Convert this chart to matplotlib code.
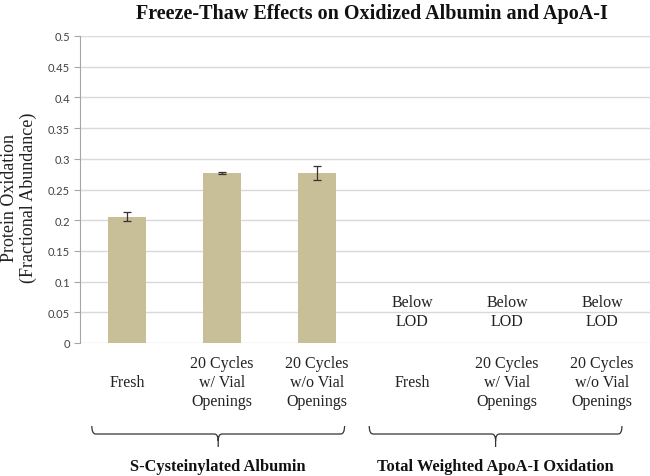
import matplotlib
matplotlib.use("Agg")
import matplotlib.pyplot as plt
from matplotlib.path import Path
from matplotlib.patches import PathPatch
from matplotlib.transforms import blended_transform_factory
import numpy as np

title = "Freeze-Thaw Effects on Oxidized Albumin and ApoA-I"
ylabel = "Protein Oxidation\n(Fractional Abundance)"
categories = ["Fresh", "20 Cycles\nw/ Vial\nOpenings", "20 Cycles\nw/o Vial\nOpenings",
              "Fresh", "20 Cycles\nw/ Vial\nOpenings", "20 Cycles\nw/o Vial\nOpenings"]
values = [0.206, 0.277, 0.277, np.nan, np.nan, np.nan]
errors = [0.007, 0.002, 0.012, 0, 0, 0]
lod_text = "Below\nLOD"
lod_level = 0.052
groups = ["S-Cysteinylated Albumin", "Total Weighted ApoA-I Oxidation"]
group_ranges = [(-0.37, 2.29), (2.55, 5.21)]
yticks = [0, 0.05, 0.1, 0.15, 0.2, 0.25, 0.3, 0.35, 0.4, 0.45, 0.5]
ytick_labels = ["0", "0.05", "0.1", "0.15", "0.2", "0.25", "0.3", "0.35", "0.4", "0.45", "0.5"]

SERIF = ["Liberation Serif", "DejaVu Serif"]
SANS = ["Lato", "DejaVu Sans"]

W, H = 650, 477
fig = plt.figure(figsize=(6.5, 4.77), dpi=100)
ax = fig.add_axes([79.5 / W, (H - 344) / H, 570 / W, 307 / H])

x = np.arange(len(categories))
vals = np.array(values, dtype=float)
mask = ~np.isnan(vals)
ax.bar(x[mask], vals[mask], width=0.4, color="#C8BF98", zorder=3)
ax.errorbar(x[mask], vals[mask], yerr=np.array(errors)[mask], fmt="none",
            ecolor="#333333", elinewidth=0.9, capsize=3, capthick=0.9, zorder=4)

for i in x[~mask]:
    ax.text(i, lod_level, lod_text, ha="center", va="center", fontsize=11.5,
            family=SERIF, color="#222222", linespacing=1.25)

ax.set_xlim(-0.5, 5.5)
ax.set_ylim(0, 0.5)
ax.set_yticks(yticks)
ax.set_yticklabels(ytick_labels, family=SANS, fontsize=8, color="#404040")
ax.set_xticks([])
ax.yaxis.grid(True, color="#d9d9d9", linewidth=1, zorder=0)
ax.set_axisbelow(True)
for s in ["top", "right", "bottom"]:
    ax.spines[s].set_visible(False)
ax.spines["left"].set_color("#a6a6a6")
ax.tick_params(axis="y", length=4, color="#a6a6a6", width=0.8, pad=3)

# y label
fig.text(19 / W, 1 - 198 / H, ylabel, rotation=90, ha="center", va="center",
         family=SERIF, fontsize=13, color="#222222", linespacing=1.1, multialignment="center")

# title
fig.text(372 / W, 1 - 14 / H, title, ha="center", va="center", family=SERIF,
         fontsize=14.5, fontweight="bold", color="#111111")

tr = blended_transform_factory(ax.transData, fig.transFigure)
for i, lab in enumerate(categories):
    ax.text(i, 1 - 383 / H, lab, transform=tr, ha="center", va="center",
            family=SERIF, fontsize=11.5, color="#222222", linespacing=1.25,
            multialignment="center")

def fy(py):
    return 1 - py / H

# braces
for (x0, x1), g in zip(group_ranges, groups):
    xm = (x0 + x1) / 2
    dx = 0.04
    verts = [(x0, fy(427)), (x0, fy(435)), (x0 + dx, fy(435)),
             (xm - dx, fy(435)), (xm, fy(435)), (xm, fy(442)),
             (xm, fy(448)),
             (xm, fy(442)), (xm, fy(435)), (xm + dx, fy(435)),
             (x1 - dx, fy(435)), (x1, fy(435)), (x1, fy(427))]
    codes = [Path.MOVETO, Path.CURVE3, Path.CURVE3,
             Path.LINETO, Path.CURVE3, Path.CURVE3,
             Path.LINETO,
             Path.MOVETO, Path.CURVE3, Path.CURVE3,
             Path.LINETO, Path.CURVE3, Path.CURVE3]
    patch = PathPatch(Path(verts, codes), transform=tr, fill=False,
                      edgecolor="#333333", linewidth=0.9, clip_on=False)
    ax.add_patch(patch)
    ax.text(xm, fy(467), g, transform=tr, ha="center", va="center",
            family=SERIF, fontsize=11.8, fontweight="bold", color="#111111")

fig.savefig("out.png", dpi=100)
